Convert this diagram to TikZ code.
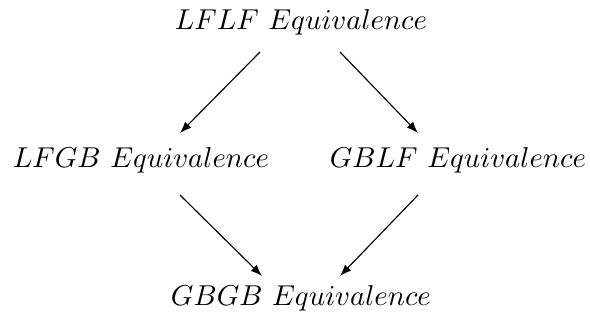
\documentclass[tikz,border=0pt]{standalone}
\usetikzlibrary{arrows.meta,calc}
\begin{document}
\begin{tikzpicture}[x=0.348pt,y=-0.348pt,
  lbl/.style={inner sep=0pt},
  arr/.style={line width=0.4pt,-{Latex[length=4pt,width=3pt]}}]
\useasboundingbox (0,0) rectangle (590,325);
\node[lbl] (top) at (301,22) {$LFLF\ Equivalence$};
\node[lbl] (left) at (141,160) {$LFGB\ Equivalence$};
\node[lbl] (right) at (458,160) {$GBLF\ Equivalence$};
\node[lbl] (bot) at (301,298) {$GBGB\ Equivalence$};
\draw[arr] ($(top)+(-41,30)$) -- ($(left)+(39,-27)$);
\draw[arr] ($(top)+(39,30)$) -- ($(right)+(-40,-27)$);
\draw[arr] ($(left)+(39,35)$) -- ($(bot)+(-39,-22)$);
\draw[arr] ($(right)+(-40,35)$) -- ($(bot)+(39,-22)$);
\end{tikzpicture}
\end{document}
